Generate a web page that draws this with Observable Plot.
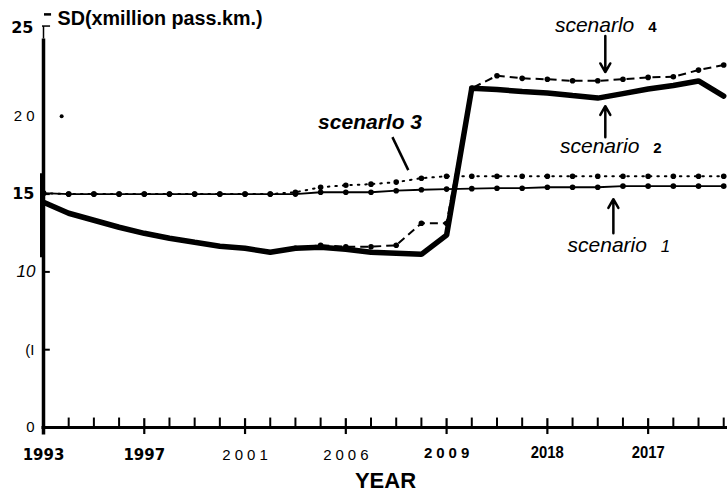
<!DOCTYPE html>
<html><head><meta charset="utf-8">
<script src="https://cdn.jsdelivr.net/npm/d3@7"></script>
<script src="https://cdn.jsdelivr.net/npm/@observablehq/plot@0.6"></script>
<style>body{margin:0;background:#fff;} svg{display:block} #layer{position:absolute;left:0;top:0;width:727px;height:494px;pointer-events:none;background:rgba(255,255,255,0);}</style>
</head><body><div id="chart"></div><div id="layer"></div>
<script>
// ---- data ----
const steps = [0,1,2,3,4,5,6,7,8,9,10,11,12,13,14,15,16,17,18,19,20,21,22,23,24,25,26,27];
const yearLabels = ["1993","1997","2001","2006","2009","2018","2017"];
const yearSteps = [0,4,8,12,16,20,24];
const yTickValues = [0,5,10,15,20,25];
const yTickLabels = ["0","(I","10","15","2 0","25"];

const scenario1 = [15.06,15.0,15.0,15.0,15.0,15.0,15.0,15.0,15.0,15.0,15.0,15.12,15.12,15.12,15.22,15.28,15.32,15.35,15.38,15.38,15.44,15.44,15.44,15.51,15.51,15.51,15.51,15.51];
const scenario2 = [14.48,13.77,13.32,12.87,12.48,12.16,11.9,11.65,11.52,11.26,11.52,11.58,11.45,11.26,11.2,11.13,12.36,21.81,21.72,21.59,21.5,21.33,21.17,21.46,21.75,21.98,22.27,21.3];
const scenario3 = [15.06,15.0,15.0,15.0,15.0,15.0,15.0,15.0,15.0,15.0,15.12,15.44,15.57,15.64,15.77,16.02,16.15,16.15,16.15,16.15,16.15,16.15,16.15,16.15,16.15,16.15,16.15,16.15];
const scenario4 = [null,null,null,null,null,null,null,null,null,null,11.52,11.71,11.62,11.62,11.71,13.13,13.13,21.81,22.61,22.44,22.38,22.28,22.28,22.38,22.5,22.54,22.97,23.3];

const titleText = "SD(xmillion pass.km.)";
const xLabelText = "YEAR";
// annotations (data coordinates)
const annoText = ["scenarlo","scenario","scenarlo 3","scenario"];
const annoX = [20.3, 20.5, 10.9, 20.8];
const annoY = [25.85, 18.05, 19.6, 11.7];
const annoNum = ["4","2","1"];
const annoNumX = [24.0, 24.2, 24.5];
const annoNumY = [25.75, 17.95, 11.65];
const arrows = [
  {x1:22.3, y1:25.16, x2:22.3, y2:22.84},
  {x1:22.3, y1:18.66, x2:22.3, y2:20.65},
  {x1:22.62, y1:12.48, x2:22.62, y2:14.67}
];
const leader3 = [{x1:13.85, y1:18.66, x2:14.48, y2:16.54}];

const pts = (arr) => steps.map(i => ({x: i, y: arr[i]})).filter(d => d.y != null);
const X_END = 27.15;

// axis geometry built from the tick arrays
const axisLines = [
  {x1: -0.08, x2: X_END, y1: 0, y2: 0, w: 3},
  {x1: 0, x2: 0, y1: -0.45, y2: 25, w: 3.5}
];
const minorTicks = steps.filter(i => i % 4 !== 0 && i > 0).map(i => ({x1: i, x2: i, y1: 0, y2: 0.64}));
const majorTicks = yearSteps.filter(i => i > 0).map(i => ({x1: i, x2: i, y1: -0.42, y2: 0.6}));
const yTicks = yTickValues.filter(v => v > 0 && v < 20).map(v => ({x1: 0, x2: 0.25, y1: v, y2: v}));
const bracket = [
  {x1: -0.06, x2: 0.26, y1: 25.8, y2: 25.8},
  {x1: 0, x2: 0, y1: 25, y2: 25.8}
];

const chart = Plot.plot({
  width: 727, height: 494,
  marginLeft: 43, marginRight: 0, marginTop: 38, marginBottom: 67,
  x: {domain: [0, X_END], axis: null},
  y: {domain: [0, 25], axis: null},
  style: {background: "#fff", fontFamily: "'Liberation Sans', Arial, sans-serif", color: "#000"},
  marks: [
    // axes
    Plot.link(axisLines, {x1: "x1", x2: "x2", y1: "y1", y2: "y2", strokeWidth: "w", stroke: "#000", strokeLinecap: "butt"}),
    Plot.link([{x1: 0, x2: 0, y1: 10.94, y2: 16.34}], {x1: "x1", x2: "x2", y1: "y1", y2: "y2", strokeWidth: 5, dx: -1, stroke: "#000"}),
    Plot.link(bracket, {x1: "x1", x2: "x2", y1: "y1", y2: "y2", strokeWidth: 1.5, stroke: "#000"}),
    Plot.link([{x1: 0.02, x2: 0.3, y1: 26.55, y2: 26.55}], {x1: "x1", x2: "x2", y1: "y1", y2: "y2", strokeWidth: 2.5, stroke: "#000"}),
    Plot.link(minorTicks, {x1: "x1", x2: "x2", y1: "y1", y2: "y2", strokeWidth: 2, stroke: "#000", strokeLinecap: "butt"}),
    Plot.link(majorTicks, {x1: "x1", x2: "x2", y1: "y1", y2: "y2", strokeWidth: 2.2, stroke: "#000", strokeLinecap: "butt"}),
    Plot.link(yTicks, {x1: "x1", x2: "x2", y1: "y1", y2: "y2", strokeWidth: 2, stroke: "#000"}),
    Plot.dot(yTickValues.filter(v => v === 20), {x: 0.72, y: d => d, r: 2, fill: "#000"}),
    // y tick labels
    Plot.text(yTickValues, {filter: (d,i) => i === 0 || i === 1 || i === 4, x: 0, y: d => d, text: (d,i) => yTickLabels[i], textAnchor: "end", dx: -9, fontSize: 15}),
    Plot.text(yTickValues, {filter: (d,i) => i === 2, x: 0, y: d => d, text: (d,i) => yTickLabels[i], textAnchor: "end", dx: -8, fontSize: 17, fontStyle: "italic"}),
    Plot.text(yTickValues, {filter: (d,i) => i === 3, x: 0, y: d => d, text: (d,i) => yTickLabels[i], textAnchor: "end", dx: -9, fontSize: 16, fontWeight: "bold", fontFamily: "'DejaVu Sans', sans-serif"}),
    Plot.text(yTickValues, {filter: (d,i) => i === 5, x: 0, y: d => d, text: (d,i) => yTickLabels[i], textAnchor: "end", dx: -10, dy: -11, fontSize: 16, fontWeight: "bold", fontFamily: "'DejaVu Sans', sans-serif"}),
    // x tick labels
    Plot.text(yearSteps, {filter: (d,i) => i < 2, x: d => d, y: 0, text: (d,i) => yearLabels[i], dy: 28, fontSize: 15, fontWeight: "bold", fontFamily: "'DejaVu Sans', sans-serif"}),
    Plot.text(yearSteps, {filter: (d,i) => i === 2 || i === 3, x: d => d, y: 0, text: (d,i) => yearLabels[i], dy: 28, dx: 2, fontSize: 15, ariaDescription: "spaced"}),
    Plot.text(yearSteps, {filter: (d,i) => i === 4, x: d => d, y: 0, text: (d,i) => yearLabels[i], dy: 26, dx: 2, fontSize: 15, fontWeight: "bold", ariaDescription: "spaced"}),
    Plot.text(yearSteps, {filter: (d,i) => i > 4, x: d => d, y: 0, text: (d,i) => yearLabels[i], dy: 25, fontSize: 17, fontWeight: "bold", ariaDescription: "narrow"}),
    Plot.text([xLabelText], {frameAnchor: "bottom", lineAnchor: "middle", dy: 53, fontSize: 22, fontWeight: "bold"}),
    Plot.text([titleText], {frameAnchor: "top-left", lineAnchor: "middle", textAnchor: "start", dx: 14, dy: -20, fontSize: 19.5, fontWeight: "bold", ariaDescription: "title"}),
    // scenario 1 (solid thin with dots)
    Plot.line(pts(scenario1), {x: "x", y: "y", stroke: "#000", strokeWidth: 1.8}),
    Plot.dot(pts(scenario1), {x: "x", y: "y", r: 2.8, fill: "#000"}),
    // scenario 3 (dotted with dots)
    Plot.line(pts(scenario3), {x: "x", y: "y", stroke: "#000", strokeWidth: 2, strokeDasharray: "1.5,6", strokeLinecap: "round"}),
    Plot.dot(pts(scenario3), {x: "x", y: "y", r: 2.8, fill: "#000"}),
    // scenario 4 (dashed with dots)
    Plot.line(pts(scenario4), {x: "x", y: "y", stroke: "#000", strokeWidth: 2, strokeDasharray: "8,5", strokeLinecap: "butt"}),
    Plot.dot(pts(scenario4), {x: "x", y: "y", r: 2.8, fill: "#000"}),
    // scenario 2 (thick solid)
    Plot.line(pts(scenario2), {x: "x", y: "y", stroke: "#000", strokeWidth: 5.5, strokeLinejoin: "miter"}),
    // annotations
    Plot.text(annoText, {filter: (d,i) => i !== 2, x: (d,i) => annoX[i], y: (d,i) => annoY[i], text: d => d, textAnchor: "start", fontSize: 21, fontStyle: "italic"}),
    Plot.text(annoText, {filter: (d,i) => i === 2, x: (d,i) => annoX[i], y: (d,i) => annoY[i], text: d => d, textAnchor: "start", fontSize: 21, fontStyle: "italic", fontWeight: "bold"}),
    Plot.text(annoNum, {filter: (d,i) => i < 2, x: (d,i) => annoNumX[i], y: (d,i) => annoNumY[i], text: d => d, textAnchor: "start", fontSize: 15, fontWeight: "bold"}),
    Plot.text(annoNum, {filter: (d,i) => i === 2, x: (d,i) => annoNumX[i], y: (d,i) => annoNumY[i], text: d => d, textAnchor: "start", fontSize: 17, fontStyle: "italic"}),
    Plot.arrow(arrows, {x1: "x1", y1: "y1", x2: "x2", y2: "y2", stroke: "#000", strokeWidth: 2.5, headLength: 6}),
    Plot.link(leader3, {x1: "x1", y1: "y1", x2: "x2", y2: "y2", stroke: "#000", strokeWidth: 2.5})
  ]
});
document.getElementById("chart").appendChild(chart);
const root = d3.select(chart);
root.selectAll('g[aria-description="spaced"] text').attr("letter-spacing", "4px");
root.selectAll('g[aria-description="narrow"] text').attr("textLength", 33).attr("lengthAdjust", "spacingAndGlyphs");
root.selectAll('g[aria-description="title"] text').attr("textLength", 205).attr("lengthAdjust", "spacingAndGlyphs");
</script>
</body></html>
